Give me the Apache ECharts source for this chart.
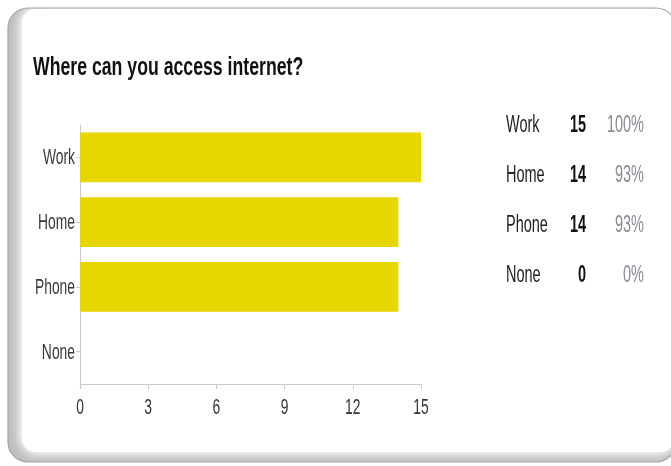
<!DOCTYPE html>
<html>
<head>
<meta charset="utf-8">
<script src="https://cdn.jsdelivr.net/npm/echarts@6/dist/echarts.min.js"></script>
<style>
  html, body { margin: 0; padding: 0; background: #ffffff; }
  #chart { width: 671px; height: 466px; }
</style>
</head>
<body>
<div id="chart"></div>
<script>
// Survey answers
const categories = ['Work', 'Home', 'Phone', 'None'];
const counts = [15, 14, 14, 0];
const respondents = 15;
const xTicks = [0, 3, 6, 9, 12, 15];
const titleText = 'Where can you access internet?';

const FONT = '"Liberation Sans", Arial, sans-serif';
const SQUEEZE = 0.63; // narrow letterforms

const chart = echarts.init(document.getElementById('chart'), null, { renderer: 'canvas' });

chart.setOption({
  animation: false,
  grid: { left: 80, top: 125, width: 341, height: 259, containLabel: false },
  xAxis: {
    type: 'value',
    min: xTicks[0],
    max: xTicks[xTicks.length - 1],
    interval: 3,
    splitLine: { show: false },
    axisLine: { show: true, lineStyle: { color: '#c8c8c8' } },
    axisTick: { show: true, length: 5, lineStyle: { color: '#c8c8c8' } },
    axisLabel: { show: false }
  },
  yAxis: {
    type: 'category',
    data: categories,
    inverse: true,
    axisLine: { show: true, lineStyle: { color: '#c8c8c8' } },
    axisTick: { show: true, length: 4, alignWithLabel: true, lineStyle: { color: '#c8c8c8' } },
    axisLabel: { show: false }
  },
  series: [{
    type: 'bar',
    data: counts,
    barWidth: '77%',
    itemStyle: { color: '#e8d600' }
  }]
});

// condensed text helper
function label(x, y, text, opts, squeeze) {
  return {
    type: 'text',
    x: x,
    y: y,
    scaleX: squeeze || SQUEEZE,
    z: 10,
    style: Object.assign({
      text: text,
      font: '22px ' + FONT,
      fill: '#333',
      align: 'left',
      verticalAlign: 'middle'
    }, opts || {})
  };
}

const graphics = [
  // card frame with bevelled edge
  {
    type: 'rect',
    z: -20,
    shape: { x: 8, y: 8, width: 668, height: 454, r: 20 },
    style: { fill: '#bdbdbd' }
  },
  {
    type: 'rect',
    z: -19,
    shape: { x: 22, y: 9, width: 652, height: 443, r: 14 },
    style: { fill: '#ffffff', shadowBlur: 16, shadowColor: '#ffffff' }
  },
  {
    type: 'rect',
    z: -18,
    shape: { x: 22, y: 9, width: 652, height: 443, r: 14 },
    style: { fill: '#ffffff', shadowBlur: 8, shadowColor: '#ffffff' }
  },
  {
    type: 'rect',
    z: -17,
    shape: { x: 8, y: 8, width: 668, height: 454, r: 20 },
    style: { fill: null, stroke: '#a4a4a4', lineWidth: 1.2 }
  },
  label(33, 68, titleText, { font: 'bold 26px ' + FONT, fill: '#111' }, 0.68)
];

// category labels, positioned through the category axis
categories.forEach((name) => {
  const p = chart.convertToPixel({ gridIndex: 0 }, [0, name]);
  graphics.push(label(p[0] - 5, p[1] + 1, name, { align: 'right', fill: '#3a3a3a' }));
});

// value axis tick labels
xTicks.forEach((v) => {
  const p = chart.convertToPixel({ gridIndex: 0 }, [v, categories[categories.length - 1]]);
  graphics.push(label(p[0], 408, String(v), { align: 'center', fill: '#333' }));
});

// summary table: answer, count, share of respondents
categories.forEach((name, i) => {
  const y = 126 + i * 50;
  const pct = Math.round(counts[i] / respondents * 100) + '%';
  graphics.push(
    label(506, y, name, { font: '23px ' + FONT, fill: '#222' }),
    label(586, y, String(counts[i]), { font: 'bold 23px ' + FONT, fill: '#111', align: 'right' }),
    label(644, y, pct, { font: '23px ' + FONT, fill: '#8a8a94', align: 'right' })
  );
});

chart.setOption({ graphic: graphics });
</script>
</body>
</html>
